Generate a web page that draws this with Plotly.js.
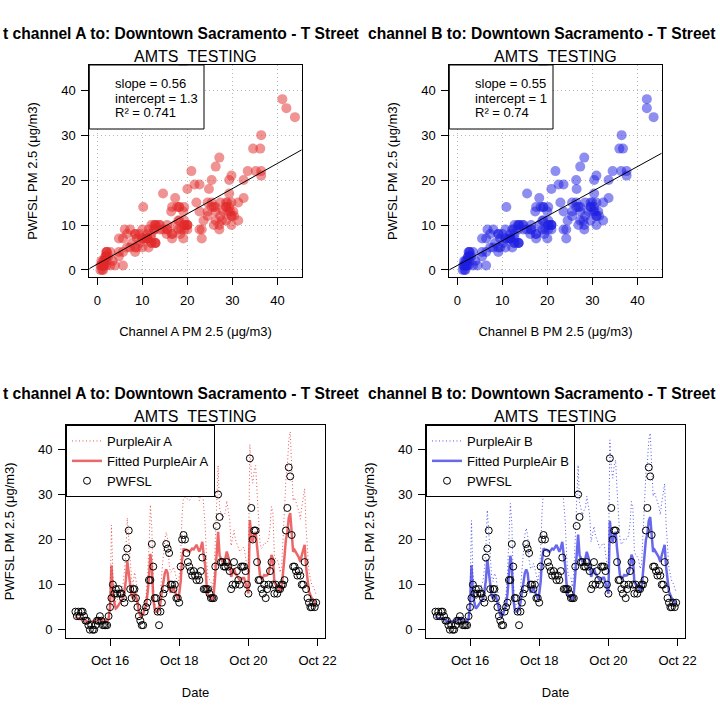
<!DOCTYPE html>
<html>
<head>
<meta charset="utf-8">
<script src="https://cdn.plot.ly/plotly-3.0.1.min.js"></script>
<style>html,body{margin:0;padding:0;background:#fff;}#chart{width:720px;height:719px;}</style>
</head>
<body>
<div id="chart"></div>
<script>
// ---------------- data (hourly, starting Oct 15 00:00) ----------------
const startDay = 15;
const pwfsl = [
  4,3,4,3,4,4,3,2,2,1,0,1,0,0,1,2,2,3,2,1,1,1,1,3,
  5,7,10,8,9,8,9,8,8,7,6,16,18,22,9,7,9,9,7,5,3,2,1,1,
  4,5,6,11,11,19,14,7,7,4,1,4,6,8,9,19,18,17,10,10,9,10,7,7,
  6,14,20,21,20,17,15,14,13,12,13,12,11,12,11,13,16,9,9,9,9,8,7,7,
  7,14,23,30,25,15,15,14,14,15,14,13,9,10,15,10,13,11,10,14,14,14,13,10,
  8,38,27,20,22,22,15,11,11,9,8,10,7,9,10,13,15,10,8,10,8,9,9,10,
  10,11,22,27,36,34,21,14,14,13,12,13,12,10,10,15,9,7,6,5,5,6,5,6
];
const purpleAirA = [
  2.9,2.5,2.1,2.1,2.0,2.1,1.8,1.3,0.9,0.7,0.7,0.9,1.1,1.3,1.4,1.6,1.4,1.8,2.1,2.0,1.6,1.3,1.1,2.0,
  6.6,23.2,12.0,8.4,6.1,6.6,7.3,8.4,9.3,10.0,12.9,17.3,24.8,20.9,15.5,11.1,10.0,12.7,11.1,8.4,4.8,3.4,2.9,3.9,
  5.7,7.3,12.0,18.0,27.7,22.7,10.2,5.7,4.8,4.8,5.7,8.4,12.9,16.6,20.0,21.6,20.0,14.6,12.7,13.0,13.9,12.9,11.1,10.0,
  12.0,16.6,25.4,29.8,29.3,29.3,28.9,28.6,29.1,29.8,29.5,30.4,31.3,29.8,28.6,30.2,32.5,27.1,23.2,15.5,11.4,11.1,10.7,8.8,
  12.0,19.3,26.3,36.4,27.1,25.4,24.5,25.4,25.9,28.6,26.3,24.5,18.6,20.0,22.0,20.0,19.1,18.2,17.3,17.7,18.2,18.2,16.4,13.9,
  12.0,41.1,34.6,32.5,35.2,36.4,29.8,23.6,19.3,18.0,18.4,19.3,19.1,19.3,20.0,22.7,27.3,25.9,16.6,15.5,15.4,14.6,12.7,13.8,
  19.3,26.3,33.4,36.2,42.0,43.9,36.4,28.6,29.3,28.0,27.3,26.3,24.5,27.1,29.8,31.3,22.7,16.6,12.9,11.4,10.0,9.5,8.8,7.7
];
const purpleAirB = [
  3.5,3.1,2.7,2.8,2.5,2.7,2.4,1.8,1.5,1.3,1.2,1.5,1.6,1.8,2.0,2.2,2.0,2.4,2.7,2.5,2.2,1.8,1.6,2.5,
  7.3,24.2,12.7,9.1,6.7,7.3,8.0,9.1,10.0,10.7,13.6,18.2,26.5,21.8,16.4,11.8,10.7,12.5,11.8,9.1,5.5,4.0,3.5,4.5,
  6.4,8.0,12.7,18.9,28.0,23.6,10.9,6.4,5.5,5.5,6.4,9.1,13.6,17.5,20.9,22.5,20.9,15.5,13.5,13.8,14.7,13.6,11.8,10.7,
  12.7,17.5,26.4,30.9,30.4,30.4,30.0,29.6,30.2,30.9,30.5,31.5,32.4,30.9,29.6,31.3,33.6,28.2,24.2,16.4,12.2,11.8,11.5,9.5,
  12.7,20.2,27.3,36.5,28.2,26.4,25.5,26.4,26.9,29.6,27.3,25.5,19.5,20.9,22.9,20.9,20.0,19.1,18.2,18.5,19.1,19.1,17.3,14.7,
  12.7,42.1,36.0,33.6,36.4,37.6,30.9,24.5,20.2,18.9,19.3,20.2,20.0,20.2,20.9,23.6,28.4,26.9,17.5,16.4,16.2,15.5,13.5,14.5,
  20.2,27.3,34.5,36.8,42.1,43.6,37.6,29.6,30.4,29.1,28.4,27.3,25.5,28.2,30.9,32.4,23.6,17.5,13.6,12.2,10.7,10.2,9.5,8.4
];
const slopeA = 0.56, interceptA = 1.3, r2A = 0.741;
const slopeB = 0.55, interceptB = 1, r2B = 0.74;
const sensorName = 'AMTS_TESTING';
const monitorName = 'Downtown Sacramento - T Street';
const titleLeftPart = 't channel A to: ';
const titleRightPart = 'channel B to: ';

// ---------------- helpers ----------------
const W = 720, H = 719;
const px = v => v / W;
const py = v => 1 - v / H;
const pad = n => (n < 10 ? '0' : '') + n;
const times = pwfsl.map((_, i) => `2019-10-${pad(startDay + Math.floor(i / 24))} ${pad(i % 24)}:00`);
const fittedA = purpleAirA.map(v => slopeA * v + interceptA);
const fittedB = purpleAirB.map(v => slopeB * v + interceptB);

const FONT = 'Liberation Sans, Arial, Helvetica, sans-serif';
const redPt = 'rgba(225,40,40,0.5)', bluePt = 'rgba(30,30,225,0.5)';
const redLine = 'rgba(228,40,40,0.7)', blueLine = 'rgba(40,40,228,0.7)';
const scatterRange = [-1.78, 45.4];
const scatterYRange = [-1.56, 45.6];

function regLine(slope, icpt, xa, ya) {
  return {x: scatterRange, y: scatterRange.map(v => slope * v + icpt), xaxis: xa, yaxis: ya,
    mode: 'lines', line: {color: 'black', width: 1}, showlegend: false, hoverinfo: 'skip'};
}

const traces = [
  {x: purpleAirA, y: pwfsl, xaxis: 'x', yaxis: 'y', mode: 'markers', showlegend: false,
   marker: {color: redPt, size: 10, line: {width: 0}}},
  regLine(slopeA, interceptA, 'x', 'y'),
  {x: purpleAirB, y: pwfsl, xaxis: 'x2', yaxis: 'y2', mode: 'markers', showlegend: false,
   marker: {color: bluePt, size: 10, line: {width: 0}}},
  regLine(slopeB, interceptB, 'x2', 'y2'),
  // time series A
  {x: times, y: purpleAirA, xaxis: 'x3', yaxis: 'y3', mode: 'lines', name: 'PurpleAir A',
   line: {color: 'rgba(228,40,40,0.8)', width: 1, dash: '1px,2.5px'}, legend: 'legend'},
  {x: times, y: fittedA, xaxis: 'x3', yaxis: 'y3', mode: 'lines', name: 'Fitted PurpleAir A',
   line: {color: redLine, width: 2.5}, legend: 'legend'},
  {x: times, y: pwfsl, xaxis: 'x3', yaxis: 'y3', mode: 'markers', name: 'PWFSL',
   marker: {symbol: 'circle-open', color: 'black', size: 7, line: {width: 1}}, legend: 'legend'},
  // time series B
  {x: times, y: purpleAirB, xaxis: 'x4', yaxis: 'y4', mode: 'lines', name: 'PurpleAir B',
   line: {color: 'rgba(40,40,228,0.8)', width: 1, dash: '1px,2.5px'}, legend: 'legend2'},
  {x: times, y: fittedB, xaxis: 'x4', yaxis: 'y4', mode: 'lines', name: 'Fitted PurpleAir B',
   line: {color: blueLine, width: 2.5}, legend: 'legend2'},
  {x: times, y: pwfsl, xaxis: 'x4', yaxis: 'y4', mode: 'markers', name: 'PWFSL',
   marker: {symbol: 'circle-open', color: 'black', size: 7, line: {width: 1}}, legend: 'legend2'}
];

const baseAxis = {
  showline: true, mirror: true, linecolor: 'black', linewidth: 1,
  ticks: 'outside', ticklen: 7, tickcolor: 'black', tickwidth: 1,
  zeroline: false, showgrid: false, fixedrange: true,
  tickfont: {family: FONT, size: 13, color: 'black'},
  ticklabelstandoff: 4
};
const titleFont = {family: FONT, size: 13, color: 'black'};
const gridOpts = {showgrid: true, gridcolor: 'rgb(185,185,185)', griddash: '1px,3px', gridwidth: 1};

function sx(dom, anchor, label) {
  return Object.assign({}, baseAxis, gridOpts, {domain: dom, anchor: anchor, range: scatterRange,
    tickmode: 'linear', tick0: 0, dtick: 10, title: {text: label, font: titleFont, standoff: 20}});
}
function sy(dom, anchor) {
  return Object.assign({}, baseAxis, gridOpts, {domain: dom, anchor: anchor, range: scatterYRange,
    tickmode: 'linear', tick0: 0, dtick: 10, ticklabelstandoff: 3,
    title: {text: 'PWFSL PM 2.5 (μg/m3)', font: titleFont, standoff: 20}});
}
function tx(dom, anchor) {
  return Object.assign({}, baseAxis, {domain: dom, anchor: anchor, type: 'date',
    range: ['2019-10-14 17:28', '2019-10-22 05:08'], tick0: '2019-10-16', dtick: 2 * 86400000,
    tickformat: '%b %d', title: {text: 'Date', font: titleFont, standoff: 20}});
}
function ty(dom, anchor) {
  return Object.assign({}, baseAxis, {domain: dom, anchor: anchor, range: [-1.73, 45.4],
    tickmode: 'linear', tick0: 0, dtick: 10, ticklabelstandoff: 3,
    title: {text: 'PWFSL PM 2.5 (μg/m3)', font: titleFont, standoff: 20}});
}

const topY = [py(277), py(65)];
const botY = [py(637.5), py(425)];
const tlX = [px(89.3), px(301.7)], trX = [px(449.3), px(661.7)];
const blX = [px(66), px(325)], brX = [px(426), px(685)];

const ann = [];
function txt(text, x, y, opts) {
  ann.push(Object.assign({text: text, x: x, y: y, xref: 'paper', yref: 'paper', showarrow: false,
    font: {family: FONT, size: 13, color: 'black'}, xanchor: 'center', yanchor: 'middle'}, opts || {}));
}
// main titles (each clipped at its panel edge in the original)
const mainFont = {family: FONT, size: 15.6, color: 'black'};
[33, 393].forEach(y => {
  txt('<b>' + titleLeftPart + monitorName + '</b>', px(361), py(y), {xanchor: 'right', font: mainFont});
  txt('<b>' + titleRightPart + monitorName + '</b>', px(366), py(y), {xanchor: 'left', font: mainFont});
});
// subtitles
[[tlX, 57], [trX, 57], [blX, 417], [brX, 417]].forEach(([d, y]) =>
  txt(sensorName, (d[0] + d[1]) / 2, py(y), {font: {family: FONT, size: 16, color: 'black'}}));
// regression text
[[px(113), slopeA, interceptA, r2A], [px(473), slopeB, interceptB, r2B]].forEach(([x, s, i, r]) => {
  txt('slope = ' + s, x, py(83), {xanchor: 'left'});
  txt('intercept = ' + i, x, py(98), {xanchor: 'left'});
  txt('R² = ' + r, x, py(113), {xanchor: 'left'});
});

const shapes = [
  {type: 'rect', xref: 'paper', yref: 'paper', x0: px(89.3), x1: px(204), y0: py(129), y1: py(65),
   line: {color: 'black', width: 1}, fillcolor: 'white', layer: 'above'},
  {type: 'rect', xref: 'paper', yref: 'paper', x0: px(449.3), x1: px(553), y0: py(129), y1: py(65),
   line: {color: 'black', width: 1}, fillcolor: 'white', layer: 'above'}
];

const legendBase = {bgcolor: 'white', bordercolor: 'black', borderwidth: 1,
  font: {family: FONT, size: 13, color: 'black'}, xanchor: 'left', yanchor: 'top', yref: 'paper', xref: 'paper',
  itemwidth: 30, tracegroupgap: 0};

const layout = {
  width: W, height: H, margin: {l: 0, r: 0, t: 0, b: 0}, paper_bgcolor: 'white', plot_bgcolor: 'white',
  font: {family: FONT, color: 'black'},
  xaxis: sx(tlX, 'y', 'Channel A PM 2.5 (μg/m3)'), yaxis: sy(topY, 'x'),
  xaxis2: sx(trX, 'y2', 'Channel B PM 2.5 (μg/m3)'), yaxis2: sy(topY, 'x2'),
  xaxis3: tx(blX, 'y3'), yaxis3: ty(botY, 'x3'),
  xaxis4: tx(brX, 'y4'), yaxis4: ty(botY, 'x4'),
  legend: Object.assign({}, legendBase, {x: px(66), y: py(425)}),
  legend2: Object.assign({}, legendBase, {x: px(426), y: py(425)}),
  annotations: ann, shapes: shapes, showlegend: true, hovermode: false
};

Plotly.newPlot('chart', traces, layout, {displayModeBar: false, staticPlot: true});
</script>
</body>
</html>
